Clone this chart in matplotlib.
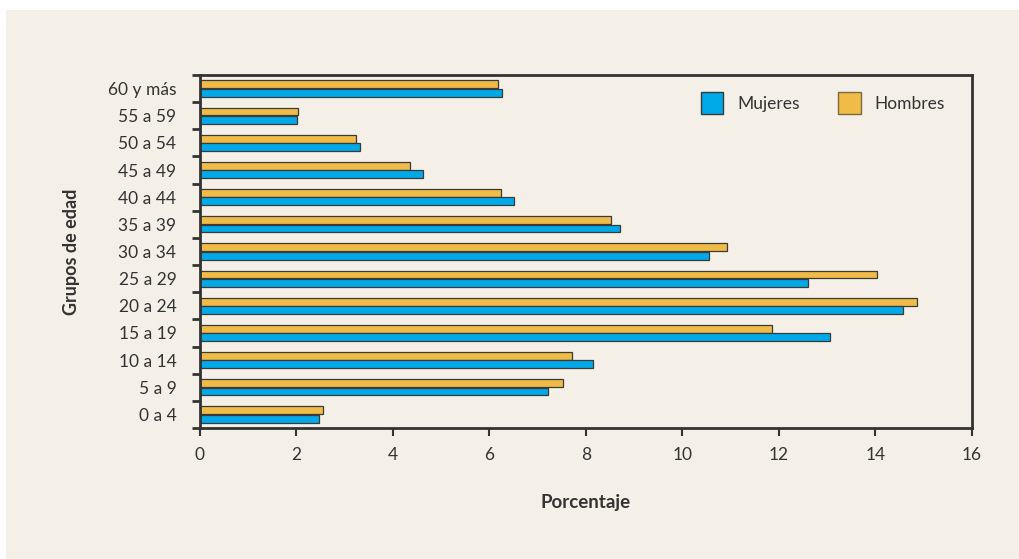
import matplotlib
matplotlib.use("Agg")
import matplotlib.pyplot as plt
from matplotlib.patches import Rectangle, Patch
import numpy as np

grupos = ["0 a 4", "5 a 9", "10 a 14", "15 a 19", "20 a 24", "25 a 29", "30 a 34",
          "35 a 39", "40 a 44", "45 a 49", "50 a 54", "55 a 59", "60 y más"]
mujeres = [2.46, 7.21, 8.14, 13.06, 14.57, 12.60, 10.55, 8.70, 6.51, 4.63, 3.32, 2.02, 6.25]
hombres = [2.55, 7.53, 7.70, 11.85, 14.87, 14.03, 10.93, 8.52, 6.24, 4.36, 3.23, 2.03, 6.18]
xticks = [0, 2, 4, 6, 8, 10, 12, 14, 16]

beige = "#f4f0e8"
azul = "#00a9e8"
amarillo = "#f0bc47"
gris = "#333333"

plt.rcParams["font.family"] = ["Lato", "DejaVu Sans"]

fig = plt.figure(figsize=(10.2, 5.59), dpi=100)
fig.patch.set_facecolor("white")
fig.patches.append(Rectangle((6 / 1020, 0), 1, 549 / 559, transform=fig.transFigure,
                             facecolor=beige, edgecolor="none", zorder=-10))

ax = fig.add_axes([200 / 1020, 1 - 428 / 559, 772 / 1020, 353 / 559])
ax.set_facecolor(beige)

y = np.arange(len(grupos))
h = 0.29
ax.barh(y + 0.155, hombres, height=h, color=amarillo, edgecolor="#3a3a3a", linewidth=0.9, label="Hombres")
ax.barh(y - 0.155, mujeres, height=h, color=azul, edgecolor="#3a3a3a", linewidth=0.9, label="Mujeres")

ax.set_xlim(0, 16)
ax.set_ylim(-0.5, len(grupos) - 0.5)
ax.set_xticks(xticks)
ax.set_xticklabels([str(v) for v in xticks])
ax.set_yticks(y)
ax.set_yticklabels(grupos)
ax.set_yticks(np.arange(-0.5, len(grupos), 1.0), minor=True)
ax.tick_params(axis="y", which="major", length=0, pad=17, labelsize=12.5, labelcolor=gris)
ax.tick_params(axis="y", which="minor", length=6, width=2, color=gris)
ax.tick_params(axis="x", length=6, width=1.5, color=gris, pad=8, labelsize=12.5, labelcolor=gris)

for s in ax.spines.values():
    s.set_color(gris)
    s.set_linewidth(2)

ax.set_ylabel("Grupos de edad", fontsize=13, fontweight="bold", color=gris, labelpad=20)
ax.set_xlabel("Porcentaje", fontsize=13.5, fontweight="bold", color=gris, labelpad=22)

# leyenda con cuadros sueltos
leg = ax.legend(handles=[Patch(facecolor=azul, edgecolor="#3a3a3a", label="Mujeres"),
                         Patch(facecolor=amarillo, edgecolor="#7a6a40", label="Hombres")],
                loc="upper right", bbox_to_anchor=(0.985, 0.995), ncol=2, frameon=False,
                handlelength=1.3, handleheight=1.5, columnspacing=2.2, handletextpad=0.8,
                fontsize=12.5, labelcolor=gris)

fig.savefig("out.png", dpi=100, facecolor=fig.get_facecolor())
